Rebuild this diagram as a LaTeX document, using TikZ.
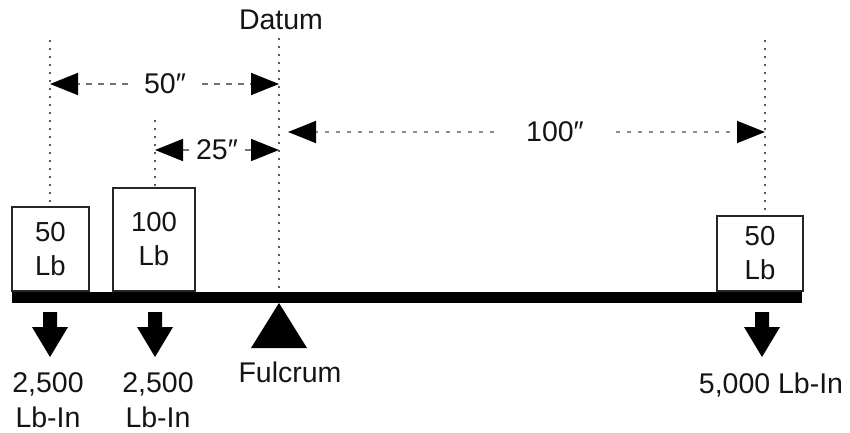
\documentclass[tikz,border=0pt]{standalone}
\usepackage{fontspec}
\setmainfont{Liberation Sans}
\usetikzlibrary{arrows.meta}
\begin{document}
\begin{tikzpicture}[x=1pt,y=-1pt,
  txt/.style={font=\fontsize{28.5}{35}\selectfont, text=black!92, inner sep=0pt, align=center},
  dimlabel/.style={txt, inner xsep=16pt},
  weight/.style={draw=black!85, line width=1.4pt, fill=white, inner sep=0pt,
    font=\fontsize{27.5}{34}\selectfont, text=black!92, align=center},
  guide/.style={draw=black!65, line width=1.5pt, dash pattern=on 2pt off 6pt},
  dim/.style={draw=black!55, line width=1.6pt, dash pattern=on 6pt off 6pt,
    -{Triangle[length=28pt,width=22pt,color=black]}},
  beamstyle/.style={fill=black, inner sep=0pt, minimum width=790pt, minimum height=11pt},
  downarr/.pic={\fill[black] (-7,0) -- (7,0) -- (7,15) -- (18,15) -- (0,45) -- (-18,15) -- (-7,15) -- cycle;}
]
\useasboundingbox (0,0) rectangle (850,433);

% beam and weights
\node[beamstyle] (beam) at (407,297.5) {};
\node[weight, minimum width=77pt, minimum height=84pt] (box1) at (50.5,249) {50\\Lb};
\node[weight, minimum width=82pt, minimum height=103pt] (box2) at (154,239.5) {100\\Lb};
\node[weight, minimum width=86pt, minimum height=75pt] (box3) at (760,253.5) {50\\Lb};

% fulcrum
\fill[black] (279,303) -- (307,348) -- (251,348) -- cycle;

% guide lines
\coordinate (g0) at (279,38);
\coordinate (g1) at (50,40);
\coordinate (g2) at (155,120);
\coordinate (g3) at (765,40);
\draw[guide] (g0) -- (g0 |- beam.north);
\draw[guide] (g1) -- (g1 |- box1.north);
\draw[guide] (g2) -- (g2 |- box2.north);
\draw[guide] (g3) -- (g3 |- box3.north);

% dimension labels
\node[dimlabel] (l50) at (165,84) {50″};
\node[dimlabel, inner xsep=7pt] (l25) at (217,150) {25″};
\node[dimlabel, inner xsep=32pt] (l100) at (555,132) {100″};
\coordinate (t100) at (288,132);

\draw[dim] (l50.west) -- (l50.west -| g1);
\draw[dim] (l50.east) -- (l50.east -| g0);
\draw[dim] (l25.west) -- (l25.west -| g2);
\draw[dim] (l25.east) -- (l25.east -| g0);
\draw[dim, dash pattern=on 4pt off 7pt, draw=black!45] (l100.west) -- (t100);
\draw[dim, dash pattern=on 4pt off 7pt, draw=black!45] (l100.east) -- (l100.east -| g3);

% down arrows
\pic at (50,312) {downarr};
\pic at (155,312) {downarr};
\pic at (762,312) {downarr};

% texts
\node[txt, anchor=north] (datum) at (281,10) {Datum};
\node[txt, anchor=north] (fulcrum) at (290,362) {Fulcrum};
\node[txt, anchor=north] (m1) at (48,372) {2,500\\Lb-In};
\node[txt, anchor=north] (m2) at (158,372) {2,500\\Lb-In};
\node[txt, anchor=north] (m3) at (771,373) {5,000 Lb-In};
\end{tikzpicture}
\end{document}
